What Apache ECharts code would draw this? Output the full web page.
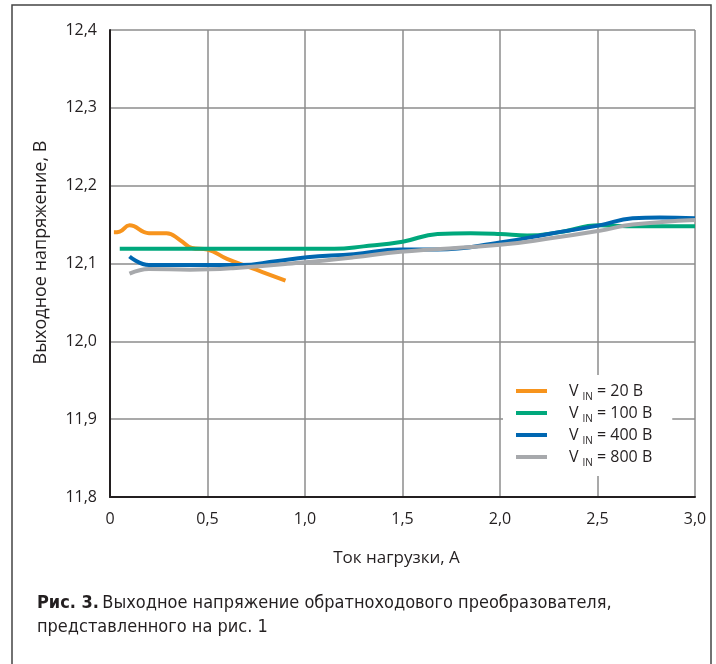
<!DOCTYPE html>
<html><head><meta charset="utf-8">
<style>html,body{margin:0;padding:0;background:#fff}#c{width:716px;height:664px}</style>
<script src="https://cdn.jsdelivr.net/npm/echarts@6/dist/echarts.min.js"></script>
</head><body><div id="c"></div>
<script>
const xTicks = [0, 0.5, 1.0, 1.5, 2.0, 2.5, 3.0];
const yTicks = [11.8, 11.9, 12.0, 12.1, 12.2, 12.3, 12.4];
const seriesNames = ['20', '100', '400', '800'];
const v20 = [[0.02,12.140],[0.05,12.141],[0.10,12.149],[0.20,12.139],[0.29,12.139],[0.36,12.130],[0.42,12.120],[0.50,12.118],[0.60,12.106],[0.75,12.092],[0.90,12.078]];
const v100 = [[0.05,12.119],[0.5,12.119],[1.0,12.119],[1.15,12.119],[1.3,12.122],[1.5,12.128],[1.68,12.138],[1.85,12.139],[2.0,12.138],[2.14,12.136],[2.3,12.140],[2.51,12.149],[2.65,12.148],[3.0,12.148]];
const v400 = [[0.10,12.109],[0.2,12.098],[0.46,12.098],[0.67,12.098],[0.85,12.103],[1.01,12.108],[1.25,12.112],[1.49,12.118],[1.68,12.118],[2.0,12.127],[2.25,12.138],[2.51,12.149],[2.68,12.158],[2.82,12.159],[3.0,12.158]];
const v800 = [[0.10,12.087],[0.2,12.093],[0.41,12.092],[0.63,12.094],[0.97,12.101],[1.25,12.108],[1.49,12.115],[2.0,12.124],[2.25,12.132],[2.51,12.142],[2.68,12.150],[3.0,12.156]];
const colors = ['#f7941d', '#00a87c', '#0067b1', '#a7a9ac'];

const chart = echarts.init(document.getElementById('c'), null, {renderer:'canvas'});
const font = "'Open Sans', 'DejaVu Sans', sans-serif";
const capFont = "'DejaVu Sans Condensed', 'Liberation Sans Narrow', 'Roboto', sans-serif";
const data = [v20, v100, v400, v800];
chart.setOption({
  animation: false,
  backgroundColor: '#fff',
  grid: {left: 110, right: 21, top: 30, bottom: 167, containLabel: false},
  xAxis: {
    type: 'value', min: 0, max: 3, interval: 0.5,
    name: 'Ток нагрузки, А', nameLocation: 'middle', nameGap: 53,
    nameTextStyle: {fontFamily: font, fontSize: 17, color: '#231f20', padding: [0, 12, 0, 0]},
    axisLine: {show: true, lineStyle: {color: '#231f20', width: 2}},
    axisTick: {show: false},
    axisLabel: {fontFamily: font, fontSize: 16, color: '#231f20', margin: 14,
      formatter: v => v === 0 ? '0' : v.toFixed(1).replace('.', ',')},
    splitLine: {show: true, lineStyle: {color: '#8c8c8c', width: 1.5}}
  },
  yAxis: {
    type: 'value', min: 11.8, max: 12.4, interval: 0.1,
    name: 'Выходное напряжение, В', nameLocation: 'middle', nameGap: 60, nameRotate: 90,
    nameTextStyle: {fontFamily: font, fontSize: 18, color: '#231f20', padding: [0, 0, 0, 22]},
    axisLine: {show: true, lineStyle: {color: '#231f20', width: 2}},
    axisTick: {show: false},
    axisLabel: {fontFamily: font, fontSize: 16, color: '#231f20', margin: 13,
      formatter: v => v.toFixed(1).replace('.', ',')},
    splitLine: {show: true, lineStyle: {color: '#8c8c8c', width: 1.5}}
  },
  legend: {
    orient: 'vertical', left: 503, top: 375,
    backgroundColor: '#fff', padding: [8, 20, 8, 13],
    itemWidth: 31, itemHeight: 4, itemGap: 3, icon: 'rect',
    data: seriesNames,
    formatter: n => '{v|V}{s|IN}{t| = ' + n + ' B}',
    textStyle: {
      padding: [0, 0, 0, 17],
      rich: {
        v: {fontFamily: font, fontSize: 16, color: '#231f20', lineHeight: 22},
        s: {fontFamily: font, fontSize: 10, color: '#231f20', lineHeight: 22, verticalAlign: 'bottom', padding: [8, 0, 0, 4]},
        t: {fontFamily: font, fontSize: 16, color: '#231f20', lineHeight: 22}
      }
    }
  },
  series: data.map((d, i) => ({
    name: seriesNames[i], type: 'line', data: d, smooth: 0.45,
    showSymbol: false, symbol: 'none',
    lineStyle: {color: colors[i], width: 4},
    itemStyle: {color: colors[i]},
    z: i === 3 ? 3 : 2 + i * 0.1
  })),
  graphic: [
    {type: 'rect', shape: {x: 12, y: 5, width: 699, height: 700}, style: {fill: 'none', stroke: '#444', lineWidth: 1.5}, z: 0, silent: true},
    {type: 'text', left: 37, top: 591, style: {
      rich: {b: {fontFamily: capFont, fontWeight: 'bold', fontSize: 18, fill: '#231f20'},
             n: {fontFamily: capFont, fontSize: 18, fill: '#231f20'}},
      text: '{b|Рис. 3.} {n|Выходное напряжение обратноходового преобразователя,}\n{n|представленного на рис. 1}',
      lineHeight: 24
    }}
  ]
});
</script></body></html>
